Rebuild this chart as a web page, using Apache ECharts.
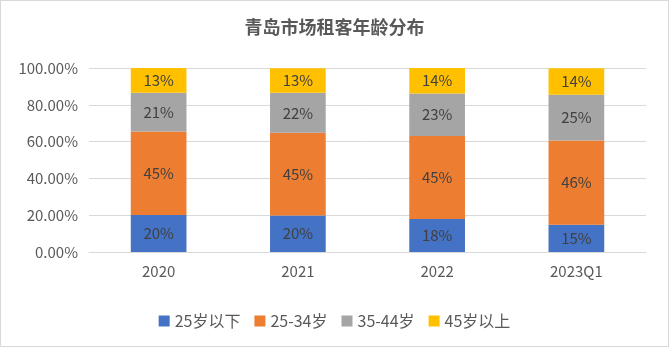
<!DOCTYPE html>
<html><head><meta charset="utf-8">
<script src="https://cdn.jsdelivr.net/npm/echarts@6/dist/echarts.min.js"></script>
<style>html,body{margin:0;padding:0;background:#fff}#c{width:667px;height:345px;border:1px solid #d9d9d9}</style>
</head><body><div id="c"></div>
<script>
var categories = ['2020','2021','2022','2023Q1'];
var seriesNames = ['25岁以下','25-34岁','35-44岁','45岁以上'];
var under25 = [20.1, 19.8, 18.0, 14.8];
var age25to34 = [45.4, 45.0, 45.0, 45.8];
var age35to44 = [21.1, 21.7, 23.2, 24.9];
var over45 = [13.4, 13.4, 13.8, 14.3];
var colors = ['#4472C4','#ED7D31','#A5A5A5','#FFC000'];
var font = '"Noto Sans CJK SC", "Noto Sans", sans-serif';
var dataSets = [under25, age25to34, age35to44, over45];
var chart = echarts.init(document.getElementById('c'));
chart.setOption({
  animation: false,
  title: {text: '青岛市场租客年龄分布', left: 'center', top: 12,
    textStyle: {fontSize: 18, fontWeight: 'bold', color: '#595959', fontFamily: font}},
  legend: {bottom: 12, left: 'center', itemWidth: 11, itemHeight: 11, itemGap: 14,
    icon: 'rect', textStyle: {fontSize: 16, color: '#595959', fontFamily: font}},
  grid: {left: 88, right: 22, top: 67, bottom: 94},
  xAxis: {type: 'category', data: categories,
    axisLine: {show: true, lineStyle: {color: '#d9d9d9'}}, axisTick: {show: false},
    axisLabel: {fontSize: 15, color: '#595959', margin: 12, fontFamily: font}},
  yAxis: {type: 'value', min: 0, max: 100, interval: 20,
    axisLine: {show: false}, axisTick: {show: false},
    splitLine: {lineStyle: {color: '#d9d9d9'}},
    axisLabel: {fontSize: 15, color: '#595959', margin: 11, fontFamily: font,
      formatter: function(v){ return v.toFixed(2) + '%'; }}},
  series: seriesNames.map(function(n, i){
    return {name: n, type: 'bar', stack: 'total', barWidth: '40%',
      itemStyle: {color: colors[i]},
      label: {show: true, position: 'inside', color: '#404040', fontSize: 15, fontFamily: font,
        formatter: function(p){ return Math.round(p.value) + '%'; }},
      data: dataSets[i]};
  })
});
</script></body></html>
